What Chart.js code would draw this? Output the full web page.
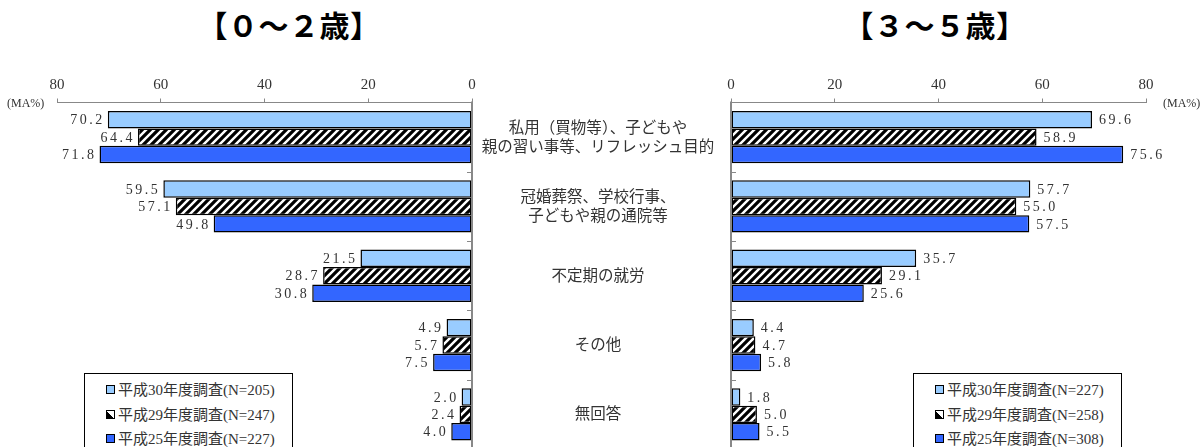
<!DOCTYPE html>
<html lang="ja">
<head>
<meta charset="utf-8">
<script src="https://cdn.jsdelivr.net/npm/chart.js@4.4.1/dist/chart.umd.min.js"></script>
<style>
  html, body { margin: 0; padding: 0; background: #fff; }
  #wrap { position: relative; width: 1204px; height: 447px; overflow: hidden; }
  .title { position: absolute; top: 2px; font: bold 30px "Noto Sans CJK JP", sans-serif; letter-spacing: 0.5px; color: #000; width: 300px; text-align: center; }
  #leftBox { position: absolute; left: 0; top: 0; }
  #rightBox { position: absolute; left: 480px; top: 0; }
  .legend { position: absolute; top: 373px; width: 209px; height: 90px; border: 1px solid #000; background: #fff; box-sizing: border-box; padding-top: 4px; }
  .legend div { height: 24.5px; line-height: 24px; font: 15px "Liberation Serif", "Noto Sans CJK JP", serif; color: #333; padding-left: 21px; white-space: nowrap; }
  .legend span { display: inline-block; width: 7px; height: 7px; border: 1.5px solid #000; margin-right: 3px; vertical-align: 1px; }
</style>
</head>
<body>
<div id="wrap">
  <div class="title" style="left:139px">【０～２歳】</div>
  <div class="title" style="left:785px">【３～５歳】</div>
  <div id="leftBox"><canvas id="leftChart" width="480" height="450"></canvas></div>
  <div id="rightBox"><canvas id="rightChart" width="724" height="450"></canvas></div>
  <div class="legend" id="leftLegend" style="left:84px"></div>
  <div class="legend" id="rightLegend" style="left:913px"></div>
</div>
<script>
const categories = [
  ['私用（買物等）、子どもや', '親の習い事等、リフレッシュ目的'],
  ['冠婚葬祭、学校行事、', '子どもや親の通院等'],
  ['不定期の就労'],
  ['その他'],
  ['無回答']
];
const seriesNames = ['平成30年度調査', '平成29年度調査', '平成25年度調査'];
const infantN = [205, 247, 227];
const childN = [227, 258, 308];

// 0~2歳
const infantH30 = [70.2, 59.5, 21.5, 4.9, 2.0];
const infantH29 = [64.4, 57.1, 28.7, 5.7, 2.4];
const infantH25 = [71.8, 49.8, 30.8, 7.5, 4.0];
// 3~5歳
const childH30 = [69.6, 57.7, 35.7, 4.4, 1.8];
const childH29 = [58.9, 55.0, 29.1, 4.7, 5.0];
const childH25 = [75.6, 57.5, 25.6, 5.8, 5.5];

const xMin = 0, xMax = 80, xStep = 20;

function makeHatch() {
    const c = document.createElement('canvas');
    c.width = 8; c.height = 8;
    const g = c.getContext('2d');
    g.fillStyle = '#fff';
    g.fillRect(0, 0, 8, 8);
    g.strokeStyle = '#000';
    g.lineWidth = 3.2;
    g.beginPath();
    g.moveTo(-2, 10); g.lineTo(10, -2);
    g.moveTo(-2, 2); g.lineTo(2, -2);
    g.moveTo(6, 10); g.lineTo(10, 6);
    g.stroke();
    return g.createPattern(c, 'repeat');
}

const hatch = makeHatch();
const fills = ['#99CCFF', hatch, '#3366FF'];
const legendMarks = ['#99CCFF', 'linear-gradient(45deg, #000 50%, #fff 50%)', '#3366FF'];

function buildDatasets(seriesData) {
    return seriesData.map((vals, i) => ({
        label: seriesNames[i],
        data: vals,
        backgroundColor: fills[i],
        borderColor: '#000',
        borderWidth: 1.5,
        borderSkipped: false,
        categoryPercentage: 0.755,
        barPercentage: 1
    }));
}

// value labels, zero axis line and inner tick marks
const decorPlugin = {
    id: 'decor',
    afterDatasetsDraw(chart, args, opts) {
        const ctx = chart.ctx;
        const xs = chart.scales.x, ys = chart.scales.y;
        const area = chart.chartArea;
        const reversed = opts.reversed;

        // value labels
        ctx.save();
        ctx.font = '14px "Liberation Serif", serif';
        ctx.letterSpacing = '2.5px';
        ctx.fillStyle = '#333';
        ctx.textBaseline = 'middle';
        chart.data.datasets.forEach((ds, di) => {
            chart.getDatasetMeta(di).data.forEach((bar, i) => {
                const txt = ds.data[i].toFixed(1);
                if (reversed) {
                    ctx.textAlign = 'right';
                    ctx.fillText(txt, bar.x - 3, bar.y + 1);
                } else {
                    ctx.textAlign = 'left';
                    ctx.fillText(txt, bar.x + 7, bar.y + 1);
                }
            });
        });
        ctx.restore();

        // zero axis line + ticks between categories
        const x0 = xs.getPixelForValue(0);
        ctx.save();
        ctx.strokeStyle = '#888';
        ctx.lineWidth = 2;
        ctx.beginPath();
        ctx.moveTo(x0, area.top - 1);
        ctx.lineTo(x0, area.bottom + 2);
        ctx.stroke();
        ctx.lineWidth = 1;
        const dir = reversed ? -1 : 1;
        for (let i = 1; i < chart.data.labels.length; i++) {
            const y = Math.round((ys.getPixelForValue(i - 1) + ys.getPixelForValue(i)) / 2) + 0.5;
            ctx.beginPath();
            ctx.moveTo(x0, y);
            ctx.lineTo(x0 + dir * 5, y);
            ctx.stroke();
        }

        // (MA%) unit
        ctx.font = '12px "Liberation Serif", serif';
        ctx.fillStyle = '#333';
        ctx.textBaseline = 'middle';
        ctx.textAlign = 'left';
        if (reversed) {
            ctx.fillText('(MA%)', 7, area.top + 1);
        } else {
            ctx.fillText('(MA%)', area.right + 17, area.top + 1);
        }
        ctx.restore();
    }
};

// category labels in the middle, drawn from the right chart's y scale
const centerLabels = {
    id: 'centerLabels',
    afterDraw(chart) {
        const ctx = chart.ctx;
        const ys = chart.scales.y;
        const cx = chart.chartArea.left - 133;
        ctx.save();
        ctx.font = '15.5px "Noto Sans CJK JP", sans-serif';
        ctx.fillStyle = '#333';
        ctx.textAlign = 'center';
        ctx.textBaseline = 'middle';
        categories.forEach((lines, i) => {
            const yc = ys.getPixelForValue(i) - 1;
            const lh = 19;
            lines.forEach((ln, k) => {
                ctx.fillText(ln, cx, yc + (k - (lines.length - 1) / 2) * lh);
            });
        });
        ctx.restore();
    }
};

function makeChart(id, seriesData, reversed, padLeft, padRight) {
    const plugins = [decorPlugin];
    if (!reversed) plugins.push(centerLabels);
    return new Chart(document.getElementById(id), {
        type: 'bar',
        data: {
            labels: categories.map(c => c.join('')),
            datasets: buildDatasets(seriesData)
        },
        options: {
            indexAxis: 'y',
            responsive: false,
            animation: false,
            layout: { padding: { left: padLeft, right: padRight, top: 71, bottom: 1 } },
            scales: {
                x: {
                    position: 'top',
                    reverse: reversed,
                    min: xMin,
                    max: xMax,
                    afterFit(scale) { scale.height = 31.5; },
                    ticks: {
                        stepSize: xStep,
                        padding: 4,
                        color: '#333',
                        font: { family: '"Liberation Serif", serif', size: 15 }
                    },
                    grid: { drawOnChartArea: false, tickLength: 4, color: '#888' },
                    border: { color: '#888', width: 1 }
                },
                y: {
                    display: false,
                    offset: true
                }
            },
            plugins: {
                legend: { display: false },
                tooltip: { enabled: false },
                decor: { reversed: reversed }
            }
        },
        plugins: plugins
    });
}

makeChart('leftChart', [infantH30, infantH29, infantH25], true, 57, 8);
makeChart('rightChart', [childH30, childH29, childH25], false, 251, 58);

function buildLegend(id, ns) {
    const box = document.getElementById(id);
    seriesNames.forEach((name, i) => {
        const row = document.createElement('div');
        const mark = document.createElement('span');
        mark.style.background = legendMarks[i];
        row.appendChild(mark);
        row.appendChild(document.createTextNode(name + '(N=' + ns[i] + ')'));
        box.appendChild(row);
    });
}
buildLegend('leftLegend', infantN);
buildLegend('rightLegend', childN);
</script>
</body>
</html>
